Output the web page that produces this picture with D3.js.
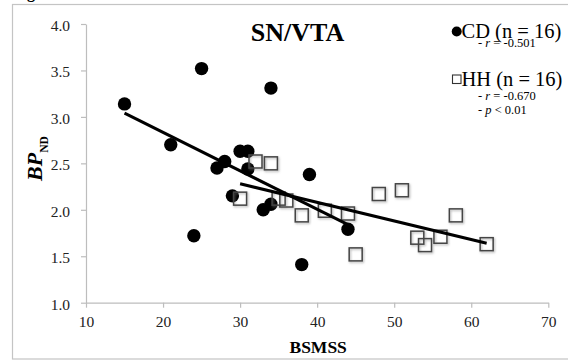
<!DOCTYPE html>
<html>
<head>
<meta charset="utf-8">
<script src="https://cdn.jsdelivr.net/npm/d3@7"></script>
<style>
  body { margin: 0; background: #fff; }
  svg { display: block; font-family: "Liberation Serif", "Times New Roman", serif; }
</style>
</head>
<body>
<svg width="568" height="360"></svg>
<script>
// CD group (filled circles)
const cdX = [15, 21, 24, 25, 27, 28, 29, 30, 31, 31, 33, 34, 34, 38, 39, 44];
const cdY = [3.14, 2.70, 1.72, 3.52, 2.45, 2.52, 2.15, 2.63, 2.63, 2.44, 2.00, 2.06, 3.31, 1.41, 2.38, 1.79];

// HH group (open squares)
const hhX = [30, 32, 34, 35, 36, 38, 41, 44, 45, 48, 51, 53, 54, 56, 58, 62];
const hhY = [2.12, 2.52, 2.50, 2.12, 2.10, 1.94, 1.99, 1.96, 1.52, 2.17, 2.21, 1.70, 1.62, 1.71, 1.94, 1.63];

// trend lines (end points)
const cdTrendX = [15, 44];
const cdTrendY = [3.04, 1.84];
const hhTrendX = [30, 62];
const hhTrendY = [2.28, 1.64];

const xTicks = [10, 20, 30, 40, 50, 60, 70];
const yTicks = [1.0, 1.5, 2.0, 2.5, 3.0, 3.5, 4.0];

const svg = d3.select("svg");

const x = d3.scaleLinear().domain([10, 70]).range([86, 548.3]);
const y = d3.scaleLinear().domain([1, 4]).range([302.7, 24]);

// shadow for the squares
const defs = svg.append("defs");
defs.append("filter")
    .attr("id", "shadow")
    .attr("x", "-50%").attr("y", "-50%").attr("width", "200%").attr("height", "200%")
  .append("feDropShadow")
    .attr("dx", 1).attr("dy", 1.2)
    .attr("stdDeviation", 0.8)
    .attr("flood-color", "#777")
    .attr("flood-opacity", 0.6);

// outer frame
svg.append("rect")
    .attr("x", 12.5).attr("y", 4.5)
    .attr("width", 570).attr("height", 354.5)
    .attr("fill", "none")
    .attr("stroke", "#c4c4c4")
    .attr("stroke-width", 1.2);

// bit of the caption above the frame
svg.append("text")
    .attr("x", 27).attr("y", -2)
    .attr("font-weight", "bold")
    .attr("font-size", 16)
    .text("g");

// axes
const yAxis = svg.append("g")
    .attr("transform", `translate(${x(10)},0)`)
    .call(d3.axisLeft(y).tickValues(yTicks).tickSize(5).tickSizeOuter(0)
        .tickPadding(11).tickFormat(d3.format(".1f")));

const xAxis = svg.append("g")
    .attr("transform", `translate(0,${y(1)})`)
    .call(d3.axisBottom(x).tickValues(xTicks).tickSize(5).tickSizeOuter(0)
        .tickPadding(8.6));

[xAxis, yAxis].forEach(a => {
    a.select(".domain").attr("stroke", "#bdbdbd").attr("stroke-width", 1.2);
    a.selectAll(".tick line").attr("stroke", "#bdbdbd").attr("stroke-width", 1.2);
    a.selectAll(".tick text")
        .attr("fill", "#222")
        .style("font-family", "Liberation Serif, serif")
        .style("font-size", "15.5px");
});
yAxis.selectAll(".tick text").attr("dy", "0.42em");

// axis titles
svg.append("text")
    .attr("x", (x(10) + x(70)) / 2 + 1)
    .attr("y", 352.5)
    .attr("text-anchor", "middle")
    .attr("font-weight", "bold")
    .attr("font-size", 17.5)
    .text("BSMSS");

const yLab = svg.append("text")
    .attr("transform", "translate(42,158.5) rotate(-90)")
    .attr("text-anchor", "middle")
    .attr("font-weight", "bold");
yLab.append("tspan").attr("font-style", "italic").attr("font-size", 22).text("BP");
yLab.append("tspan").attr("font-size", 11.5).attr("dy", 6).text("ND");

// title
svg.append("text")
    .attr("x", 297.5).attr("y", 41)
    .attr("text-anchor", "middle")
    .attr("font-weight", "bold")
    .attr("font-size", 26)
    .text("SN/VTA");

// CD points
svg.append("g").selectAll("circle")
    .data(d3.zip(cdX, cdY))
    .join("circle")
    .attr("cx", d => x(d[0]))
    .attr("cy", d => y(d[1]))
    .attr("r", 6.7)
    .attr("fill", "#000");

// HH points
svg.append("g").attr("filter", "url(#shadow)").selectAll("rect")
    .data(d3.zip(hhX, hhY))
    .join("rect")
    .attr("x", d => x(d[0]) - 6.5)
    .attr("y", d => y(d[1]) - 6.5)
    .attr("width", 13).attr("height", 13)
    .attr("fill", "none")
    .attr("stroke", "#444")
    .attr("stroke-width", 1.5);

// trend lines
const line = d3.line().x(d => x(d[0])).y(d => y(d[1]));
[[cdTrendX, cdTrendY], [hhTrendX, hhTrendY]].forEach(([tx, ty]) => {
    svg.append("path")
        .datum(d3.zip(tx, ty))
        .attr("d", line)
        .attr("fill", "none")
        .attr("stroke", "#000")
        .attr("stroke-width", 3);
});

// legend
const lg = svg.append("g");
lg.append("circle").attr("cx", 456.7).attr("cy", 31.5).attr("r", 5).attr("fill", "#000");
lg.append("text").attr("x", 461.5).attr("y", 37.5).attr("font-size", 20.5).text("CD (n = 16)");
const r1 = lg.append("text").attr("x", 478).attr("y", 47).attr("font-size", 12.5);
r1.append("tspan").text("- ");
r1.append("tspan").attr("font-style", "italic").text("r");
r1.append("tspan").text(" = -0.501");

lg.append("rect").attr("x", 452.5).attr("y", 75).attr("width", 8.5).attr("height", 8.5)
    .attr("fill", "#fff").attr("stroke", "#333").attr("stroke-width", 1.1);
lg.append("text").attr("x", 461.5).attr("y", 86).attr("font-size", 20.5).text("HH (n = 16)");
const r2 = lg.append("text").attr("x", 478).attr("y", 100).attr("font-size", 12.5);
r2.append("tspan").text("- ");
r2.append("tspan").attr("font-style", "italic").text("r");
r2.append("tspan").text(" = -0.670");
const p2 = lg.append("text").attr("x", 478).attr("y", 113.5).attr("font-size", 12.5);
p2.append("tspan").text("- ");
p2.append("tspan").attr("font-style", "italic").text("p");
p2.append("tspan").text(" < 0.01");
</script>
</body>
</html>
